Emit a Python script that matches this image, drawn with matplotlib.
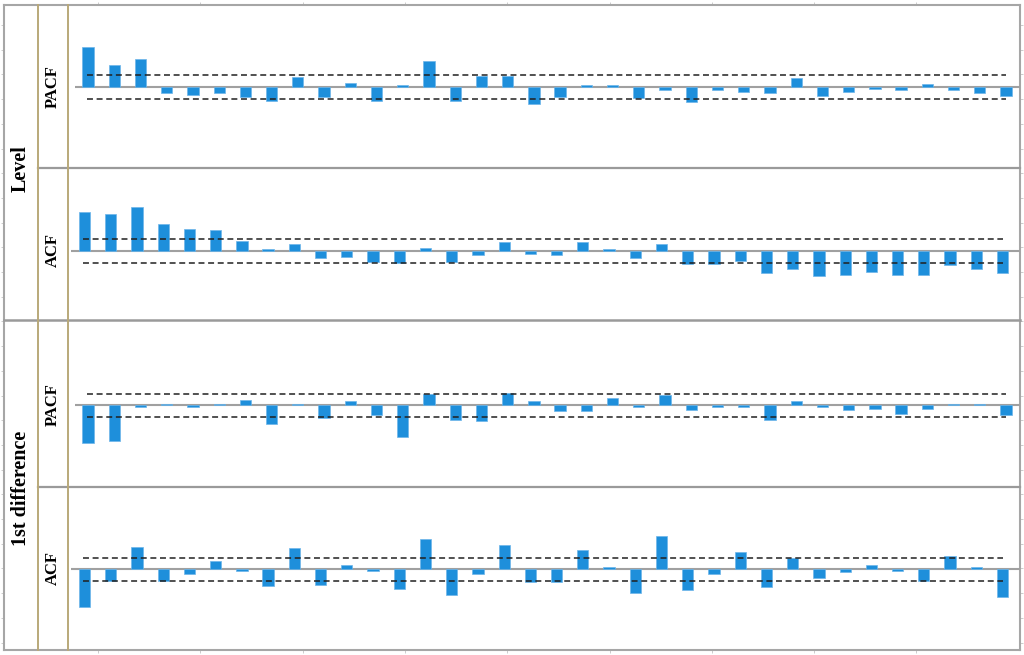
import matplotlib
matplotlib.use("Agg")
import matplotlib.pyplot as plt
import numpy as np

# ---------------- data ----------------
lags = list(range(1, 37))

level_pacf = [0.49, 0.27, 0.34, -0.074, -0.094, -0.074, -0.12, -0.17, 0.123, -0.12,
              0.053, -0.17, 0.02, 0.32, -0.17, 0.13, 0.135, -0.21, -0.12, 0.02,
              0.02, -0.14, -0.037, -0.19, -0.037, -0.057, -0.074, 0.106, -0.106, -0.057,
              -0.02, -0.037, 0.037, -0.037, -0.074, -0.106]

level_acf = [0.48, 0.45, 0.54, 0.33, 0.27, 0.25, 0.126, 0.02, 0.085, -0.09,
             -0.073, -0.14, -0.15, 0.04, -0.14, -0.053, 0.105, -0.037, -0.053, 0.105,
             0.02, -0.09, 0.09, -0.16, -0.16, -0.12, -0.27, -0.22, -0.30, -0.29,
             -0.26, -0.29, -0.29, -0.17, -0.22, -0.27]

diff_pacf = [-0.46, -0.43, -0.025, 0.02, -0.025, 0.02, 0.07, -0.23, 0.02, -0.15,
             0.053, -0.12, -0.39, 0.14, -0.18, -0.19, 0.155, 0.053, -0.07, -0.07,
             0.085, -0.025, 0.13, -0.053, -0.025, -0.025, -0.18, 0.053, -0.025, -0.057,
             -0.04, -0.11, -0.04, 0.02, 0.02, -0.12]

diff_acf = [-0.46, -0.14, 0.27, -0.14, -0.053, 0.10, -0.025, -0.20, 0.256, -0.19,
            0.057, -0.025, -0.24, 0.37, -0.31, -0.053, 0.29, -0.155, -0.155, 0.24,
            0.025, -0.29, 0.40, -0.256, -0.053, 0.21, -0.22, 0.14, -0.105, -0.037,
            0.057, -0.02, -0.14, 0.16, 0.025, -0.34]

conf = 0.142  # confidence bound

group_labels = ["Level", "1st difference"]
panel_labels = ["PACF", "ACF", "PACF", "ACF"]

# ---------------- layout helpers ----------------
W, H = 1024, 655
fig = plt.figure(figsize=(W / 100, H / 100), dpi=100)


def frac(x0, y0, x1, y1):
    return [x0 / W, 1 - y1 / H, (x1 - x0) / W, (y1 - y0) / H]


# frame axes with small outer ticks
frame = fig.add_axes(frac(4, 5, 1020, 650))
frame.set_xlim(4, 1020)
frame.set_ylim(650, 5)
frame.set_xticks(np.arange(98, 1010, 102.3))
frame.set_yticks(np.arange(25, 648, 24.7))
frame.tick_params(direction="out", length=2.5, width=0.6, colors="#c4c4c4",
                  labelleft=False, labelbottom=False, top=True, right=True)
for s in frame.spines.values():
    s.set_color("#a6a6a6")
    s.set_linewidth(1.5)
frame.set_facecolor("white")
frame.set_zorder(0)

# panel geometry (pixels): y0, y1, ylim, x of first bar
PX_PER_LAG = 26.229
panels = [
    (level_pacf, 5, 168, (-0.994, 1.006), 88.0),
    (level_acf, 168, 320, (-0.842, 1.012), 84.5),
    (diff_pacf, 320, 487, (-0.996, 1.04), 88.0),
    (diff_acf, 487, 650, (-0.98, 1.0), 84.5),
]

bar_color = "#1E8FDB"
for vals, y0, y1, ylim, x_first in panels:
    ax = fig.add_axes(frac(68, y0, 1020, y1))
    xmin = 1 - (x_first - 68) / PX_PER_LAG
    xmax = 1 + (1020 - x_first) / PX_PER_LAG
    ax.set_xlim(xmin, xmax)
    ax.set_ylim(*ylim)
    ax.axis("off")
    ax.patch.set_alpha(0)
    ax.set_zorder(2)
    ax.plot([0.5, xmax], [0, 0], color="#a0a0a0", lw=1.5, zorder=1,
            solid_capstyle="butt")
    ax.bar(lags, vals, width=0.43, color=bar_color, edgecolor="#6db6ea",
           linewidth=0.5, zorder=2)
    for c in (conf, -conf):
        ax.plot([0.96, 36.0], [c, c], color="#202020", lw=1.1,
                linestyle=(0, (3.9, 2.4)), zorder=3)

# overlay for separators and labels (pixel coords)
ov = fig.add_axes([0, 0, 1, 1])
ov.set_xlim(0, W)
ov.set_ylim(H, 0)
ov.axis("off")
ov.patch.set_alpha(0)
ov.set_zorder(3)

sep = "#9a9a9a"
ov.plot([38, 1020], [168, 168], color=sep, lw=1.6)
ov.plot([4, 1020], [320, 320], color=sep, lw=1.8)
ov.plot([38, 1020], [487, 487], color=sep, lw=1.6)
tan = "#b9a979"
ov.plot([38, 38], [5, 650], color=tan, lw=1.4)
ov.plot([68, 68], [5, 650], color=tan, lw=1.4)

font = {"family": ["Liberation Serif", "DejaVu Serif"], "weight": "bold"}
ov.text(21, 169, group_labels[0], rotation=90, ha="center", va="center",
        fontsize=14.5, **font)
ov.text(21, 488, group_labels[1], rotation=90, ha="center", va="center",
        fontsize=14.5, **font)
for lab, yc in zip(panel_labels, [87, 250, 405, 568]):
    ov.text(53, yc, lab, rotation=90, ha="center", va="center",
            fontsize=12, **font)

fig.savefig("out.png", dpi=100)
